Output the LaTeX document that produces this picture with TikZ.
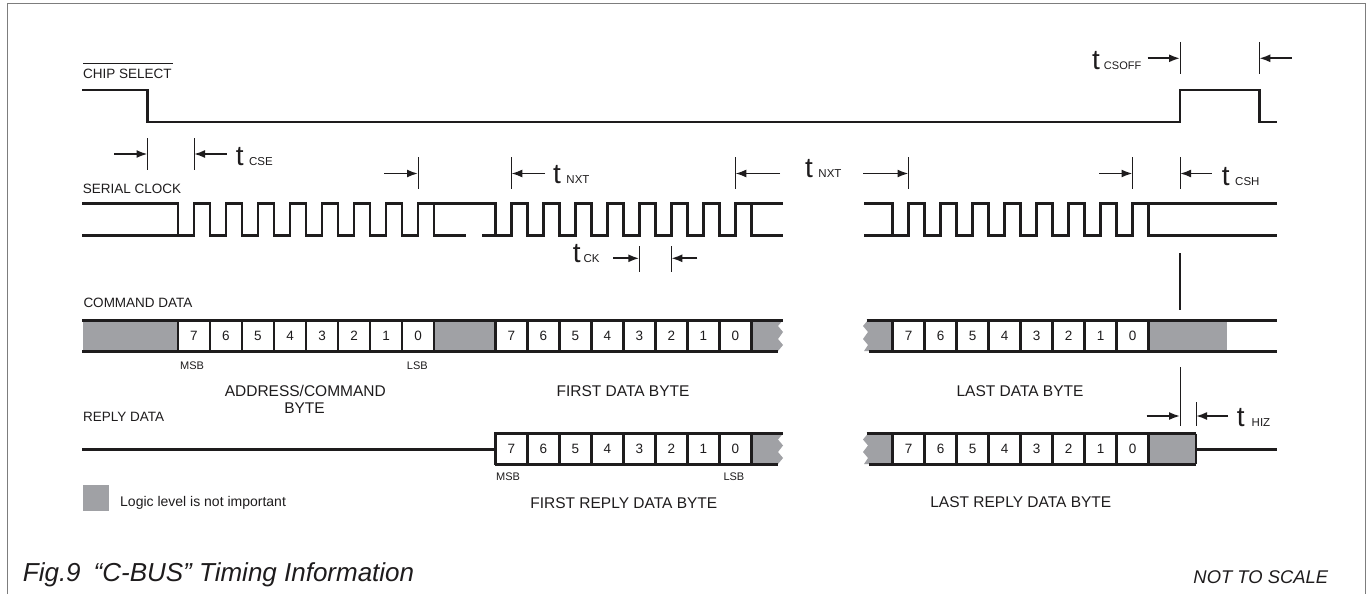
\documentclass[tikz,border=0pt]{standalone}
\usepackage{fontspec}
\setmainfont{Liberation Sans}
\usetikzlibrary{arrows.meta}
\definecolor{ink}{RGB}{30,28,29}
\definecolor{dc}{RGB}{160,161,165}
\definecolor{framec}{RGB}{125,125,125}
\newcommand{\clkH}{203.5}
\newcommand{\clkL}{235.5}
\newcommand{\subsfont}{\fontsize{11.5}{13}\selectfont}
\newcommand{\bytegroup}[3]{%
  \foreach \i/\d in {0/7,1/6,2/5,3/4,4/3,5/2,6/1,7/0}
    \node[bitbox] (#3\i) at ({#1+(\i+0.5)*32},#2) {\d};}
\begin{document}
\begin{tikzpicture}[x=1pt,y=-1pt,
  every node/.style={inner sep=0pt,text=ink},
  wave/.style={line width=2.8pt,draw=ink,line join=miter},
  tickline/.style={line width=1pt,draw=ink},
  dimarrow/.style={line width=1.8pt,draw=ink,-{Latex[length=11pt,width=8pt]}},
  bus/.style={line width=3pt,draw=ink},
  bitbox/.style={draw=ink,line width=2.4pt,fill=white,minimum width=32pt,minimum height=31pt,font=\fontsize{13.5}{16}\selectfont},
  sig/.style={anchor=base west,font=\fontsize{13.5}{15}\selectfont},
  bytelbl/.style={anchor=base,font=\fontsize{15.5}{17}\selectfont},
  msb/.style={anchor=base west,font=\fontsize{11}{12}\selectfont},
  tlab/.style={anchor=base west,font=\fontsize{28}{30}\selectfont}]
\useasboundingbox (0,0) rectangle (1372,594);
\fill[white] (0,0) rectangle (1372,594);
% frame
\draw[framec,line width=1pt] (7,594) -- (7,3.5) -- (1365,3.5) -- (1365,594);

% ---------- CHIP SELECT ----------
\node[sig] (cslbl) at (83,78) {CHIP SELECT};
\draw[ink,line width=1.3pt] (83,63.5) -- (173,63.5);
\draw[wave] (82,90) -- (147.5,90) -- (147.5,122) -- (1180,122) -- (1180,90) -- (1259.3,90) -- (1259.3,122) -- (1277,122);

% tCSOFF
\draw[tickline] (1180,42) -- (1180,74);
\draw[tickline] (1259.3,42) -- (1259.3,74);
\coordinate (csoffA) at (1147.5,58.3);
\coordinate (csoffB) at (1291.7,58.3);
\draw[dimarrow] (csoffA) -- (1180,58.3);
\draw[dimarrow] (csoffB) -- (1259.3,58.3);
\node[tlab] (tcsoff) at (1092,69.5) {t\hspace{4pt}{\fontsize{11}{13}\selectfont CSOFF}};

% ---------- SERIAL CLOCK ----------
\node[sig] (sclbl) at (82.7,193) {SERIAL CLOCK};
% group 1
\draw[wave] (82,\clkH) -- (178,\clkH) -- (178,\clkL);
\draw[wave] (82,\clkL) \foreach \k in {0,...,7}{ -- ({178+\k*32+16},\clkL) -- ({178+\k*32+16},\clkH) -- ({178+\k*32+32},\clkH) -- ({178+\k*32+32},\clkL)} -- (466,\clkL);
\draw[wave] (434,\clkH) -- (495.3,\clkH) -- (495.3,\clkL);
% group 2
\draw[wave] (482,\clkL) \foreach \k in {0,...,7}{ -- ({495.3+\k*32+16},\clkL) -- ({495.3+\k*32+16},\clkH) -- ({495.3+\k*32+32},\clkH) -- ({495.3+\k*32+32},\clkL)} -- (782.7,\clkL);
\draw[wave] (751.3,\clkH) -- (782.7,\clkH);
% group 3
\draw[wave] (864,\clkH) -- (892.5,\clkH) -- (892.5,\clkL);
\draw[wave] (864,\clkL) \foreach \k in {0,...,7}{ -- ({892.5+\k*32+16},\clkL) -- ({892.5+\k*32+16},\clkH) -- ({892.5+\k*32+32},\clkH) -- ({892.5+\k*32+32},\clkL)} -- (1277,\clkL);
\draw[wave] (1148.5,\clkH) -- (1277,\clkH);

% tCSE
\draw[tickline] (147.5,138) -- (147.5,170);
\draw[tickline] (194,138) -- (194,170);
\coordinate (cseA) at (114,154);
\coordinate (cseB) at (226.7,154);
\draw[dimarrow] (cseA) -- (147.5,154);
\draw[dimarrow] (cseB) -- (194,154);
\node[tlab] (tcse) at (235.7,165.5) {t\hspace{5.5pt}{\subsfont CSE}};

% tNXT ticks
\foreach \x in {418,511.3,735.3,908.5,1132.5,1180}
  \draw[tickline] (\x,157) -- (\x,189);
\coordinate (nxa) at (384,173.5);
\coordinate (nxb) at (545,173.5);
\coordinate (nxc) at (780,173.5);
\coordinate (nxd) at (863,173.5);
\coordinate (nxe) at (1099,173.5);
\coordinate (nxf) at (1211.7,173.5);
\draw[dimarrow] (nxa) -- (418,173.5);
\draw[dimarrow] (nxb) -- (511.3,173.5);
\draw[dimarrow] (nxc) -- (735.3,173.5);
\draw[dimarrow] (nxd) -- (908.5,173.5);
\draw[dimarrow] (nxe) -- (1132.5,173.5);
\draw[dimarrow] (nxf) -- (1180,173.5);
\node[tlab] (tnxt1) at (553,183.5) {t\hspace{5.5pt}{\subsfont NXT}};
\node[tlab] (tnxt2) at (805,177.5) {t\hspace{5.5pt}{\subsfont NXT}};
\node[tlab] (tcsh) at (1221.7,185.5) {t\hspace{5.5pt}{\subsfont CSH}};

% tCK
\draw[tickline] (639.3,246) -- (639.3,272);
\draw[tickline] (671.3,246) -- (671.3,272);
\coordinate (ckA) at (613.3,258.3);
\coordinate (ckB) at (697.3,258.3);
\draw[dimarrow] (ckA) -- (639.3,258.3);
\draw[dimarrow] (ckB) -- (671.3,258.3);
\node[tlab] (tck) at (572.7,262) {t\hspace{3pt}{\subsfont CK}};

% vertical marker at 1180
\draw[ink,line width=1.6pt] (1180,253) -- (1180,310);

% ---------- COMMAND DATA ----------
\node[sig] (cdlbl) at (83.3,307) {COMMAND DATA};
\fill[dc] (83,320) rectangle (178,351);
\fill[dc] (434,320) rectangle (495.3,351);
\fill[dc] (751.3,320) -- (783,320) -- (778,326) -- (783,332) -- (778,339) -- (783,345) -- (778,351) -- (751.3,351) -- cycle;
\fill[dc] (892.5,320) -- (868,320) -- (863,326) -- (868,332) -- (863,339) -- (868,345) -- (864,351) -- (892.5,351) -- cycle;
\fill[dc] (1148.5,320) rectangle (1227,351);
\bytegroup{178}{335.5}{ca}
\bytegroup{495.3}{335.5}{cb}
\bytegroup{892.5}{335.5}{cc}
\draw[bus] (82,320) -- (783,320);
\draw[bus] (82,351) -- (778,351);
\draw[bus] (866.7,320) -- (1277,320);
\draw[bus] (869,351) -- (1277,351);

\node[msb] (msb1) at (180,369) {MSB};
\node[msb] (lsb1) at (406.7,369) {LSB};
\node[bytelbl] (adr1) at (305.3,396) {ADDRESS/COMMAND};
\node[bytelbl] (adr2) at (304.5,413) {BYTE};
\node[bytelbl] (fdb) at (623,396) {FIRST DATA BYTE};
\node[bytelbl] (ldb) at (1020,396) {LAST DATA BYTE};

% tHIZ
\draw[tickline] (1180,367) -- (1180,426);
\draw[tickline] (1196,402) -- (1196,426);
\coordinate (hzA) at (1146.7,416);
\coordinate (hzB) at (1228,416);
\draw[dimarrow] (hzA) -- (1180,416);
\draw[dimarrow] (hzB) -- (1196,416);
\node[tlab] (thiz) at (1236.7,426.5) {t\hspace{7pt}{\subsfont HIZ}};

% ---------- REPLY DATA ----------
\node[sig] (rdlbl) at (83,421) {REPLY DATA};
\draw[bus] (82,449) -- (495.3,449);
\fill[dc] (751.3,433.5) -- (783,433.5) -- (778,439.5) -- (783,445.5) -- (778,452) -- (783,458) -- (778,464) -- (751.3,464) -- cycle;
\fill[dc] (892.5,433.5) -- (868,433.5) -- (863,439.5) -- (868,445.5) -- (863,452) -- (868,458) -- (864,464) -- (892.5,464) -- cycle;
\fill[dc] (1148.5,433.5) rectangle (1196,464);
\bytegroup{495.3}{448.75}{rb}
\bytegroup{892.5}{448.75}{rc}
\draw[bus] (495.3,433.5) -- (783,433.5);
\draw[bus] (495.3,464) -- (778,464);
\draw[bus] (866.7,433.5) -- (1196,433.5);
\draw[bus] (869,464) -- (1196,464);
\draw[ink,line width=2.4pt] (1196,433.5) -- (1196,464);
\draw[bus] (1196,449) -- (1277,449);

\node[msb] (msb2) at (496,480) {MSB};
\node[msb] (lsb2) at (723.3,480) {LSB};
\node[bytelbl] (frdb) at (623.8,508) {FIRST REPLY DATA BYTE};
\node[bytelbl] (lrdb) at (1020.8,507.7) {LAST REPLY DATA BYTE};

% legend
\fill[dc] (83,485) rectangle (109,511);
\node[anchor=base west,font=\fontsize{14}{15}\selectfont] (legend) at (120,506) {Logic level is not important};

% caption
\node[anchor=base west,font=\fontsize{26}{28}\selectfont\itshape] (caption) at (22.7,581.7) {Fig.9\hspace{0.5em}“C-BUS” Timing Information};
\node[anchor=base east,font=\fontsize{18.4}{21}\selectfont\itshape] (nts) at (1328.3,583.3) {NOT TO SCALE};
\end{tikzpicture}
\end{document}
